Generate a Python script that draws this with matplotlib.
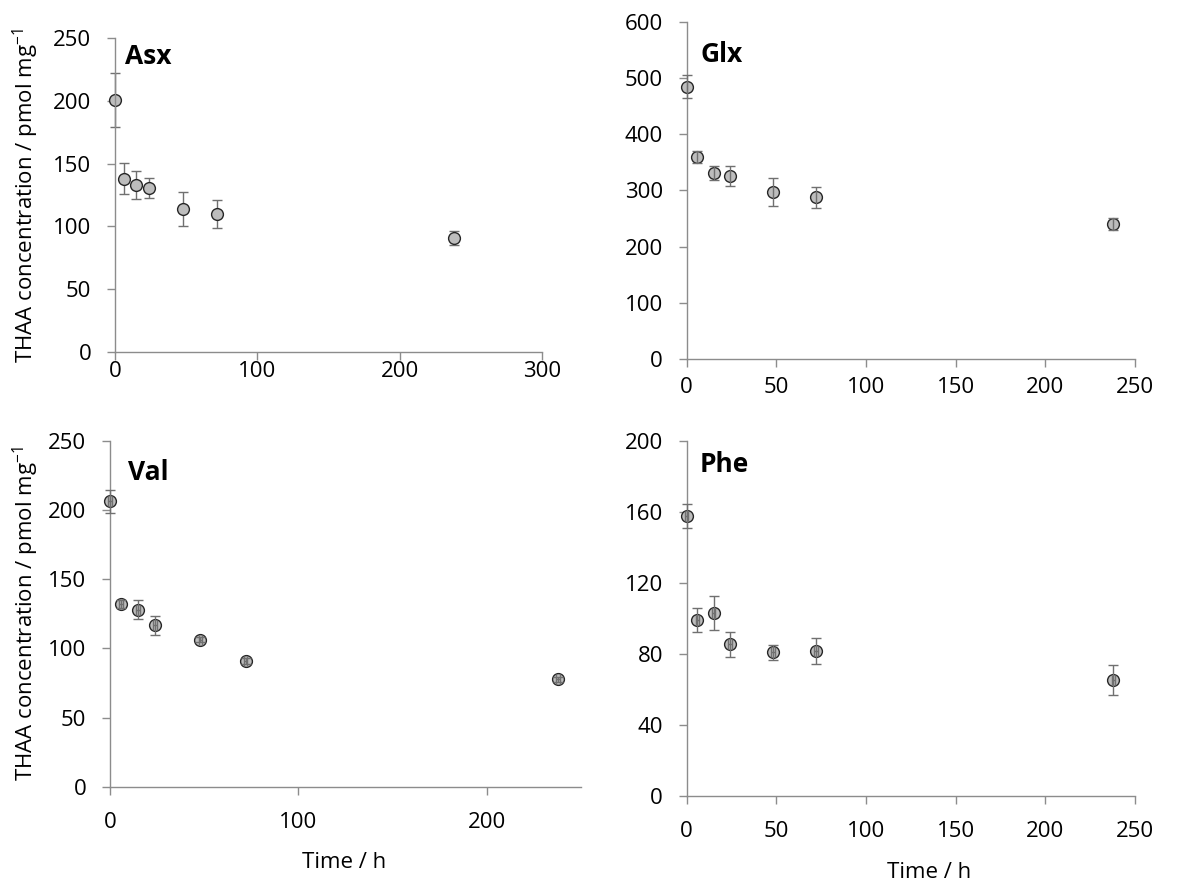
import matplotlib
matplotlib.use("Agg")
import matplotlib.pyplot as plt
import numpy as np

plt.rcParams['font.family'] = ['Open Sans', 'DejaVu Sans']

time_h = [0, 6, 15, 24, 48, 72, 238]

asx = [200.6, 138, 133, 130.3, 113.6, 109.9, 90.5]
asx_err = [21.5, 12.5, 11, 8, 13.5, 11, 5.5]

glx = [484.5, 359, 331, 325.8, 297.9, 288, 240.5]
glx_err = [20, 10.5, 13, 18, 25, 18.5, 10]

val = [206.4, 131.8, 127.9, 116.6, 106.2, 91, 77.6]
val_err = [8.3, 3, 6.7, 6.7, 2, 2, 2]

phe = [157.6, 99, 102.8, 85.3, 80.8, 81.5, 65.2]
phe_err = [7, 7, 9.7, 7.2, 4.2, 7.2, 8.6]

time_err = [1, 1, 1, 1, 1, 1, 1]

W, H = 1199, 882
fig = plt.figure(figsize=(W / 100, H / 100), dpi=100)

def ax_at(l, r, t, b):
    return fig.add_axes([l / W, 1 - b / H, (r - l) / W, (b - t) / H])

panels = [
    dict(name='Asx', box=(115, 542, 38, 352), y=asx, e=asx_err, xerr=None,
         xlim=300, xt=[0, 100, 200, 300], ylim=250, yt=[0, 50, 100, 150, 200, 250],
         title=(125, 56), ylabel=True, xlabel=None, ontop=False, xpad=1),
    dict(name='Glx', box=(686.7, 1135, 21.7, 359.3), y=glx, e=glx_err, xerr=None,
         xlim=250, xt=[0, 50, 100, 150, 200, 250], ylim=600, yt=[0, 100, 200, 300, 400, 500, 600],
         title=(700, 55), ylabel=False, xlabel=None, ontop=True, xpad=7),
    dict(name='Val', box=(110, 580.8, 440.7, 786.7), y=val, e=val_err, xerr=time_err,
         xlim=250, xt=[0, 100, 200], ylim=250, yt=[0, 50, 100, 150, 200, 250],
         title=(128, 472), ylabel=True, xlabel=(344, 862), ontop=True, xpad=13),
    dict(name='Phe', box=(686.7, 1135, 440.7, 795.7), y=phe, e=phe_err, xerr=time_err,
         xlim=250, xt=[0, 50, 100, 150, 200, 250], ylim=200, yt=[0, 40, 80, 120, 160, 200],
         title=(700, 465), ylabel=False, xlabel=(929, 873), ontop=True, xpad=13),
]

spine_c = '#8c8c8c'
for p in panels:
    l, r, t, b = p['box']
    ax = ax_at(l, r, t, b)
    ax.set_xlim(0, p['xlim'])
    ax.set_ylim(0, p['ylim'])
    ax.set_xticks(p['xt'])
    ax.set_yticks(p['yt'])
    for s in ['top', 'right']:
        ax.spines[s].set_visible(False)
    for s in ['left', 'bottom']:
        ax.spines[s].set_color(spine_c)
        ax.spines[s].set_linewidth(1.0)
    ax.tick_params(axis='both', direction='out', length=5.5, width=1.0, color=spine_c,
                   labelsize=16, labelcolor='black')
    ax.tick_params(axis='y', pad=11.5)
    ax.tick_params(axis='x', pad=p['xpad'])
    z_err = 3 if p['ontop'] else 1
    ax.errorbar(time_h, p['y'], yerr=p['e'], xerr=p['xerr'], fmt='none',
                ecolor='#707070', elinewidth=1.0, capsize=3.6, capthick=1.0,
                zorder=z_err, clip_on=False)
    ax.plot(time_h, p['y'], 'o', ms=8.5, mfc='#bdbdbd', mec='#262626', mew=1.0,
            zorder=2, clip_on=False)
    tx, ty = p['title']
    fig.text(tx / W, 1 - ty / H, p['name'], fontsize=19, fontweight='bold',
             ha='left', va='center')
    if p['ylabel']:
        fig.text(26 / W, 1 - ((t + b) / 2) / H, 'THAA concentration / pmol mg$^{\\mathregular{-1}}$',
                 rotation=90, ha='center', va='center', fontsize=16)
    if p['xlabel']:
        xx, yy = p['xlabel']
        fig.text(xx / W, 1 - yy / H, 'Time / h', ha='center', va='center', fontsize=16)

fig.savefig('out.png', dpi=100)
